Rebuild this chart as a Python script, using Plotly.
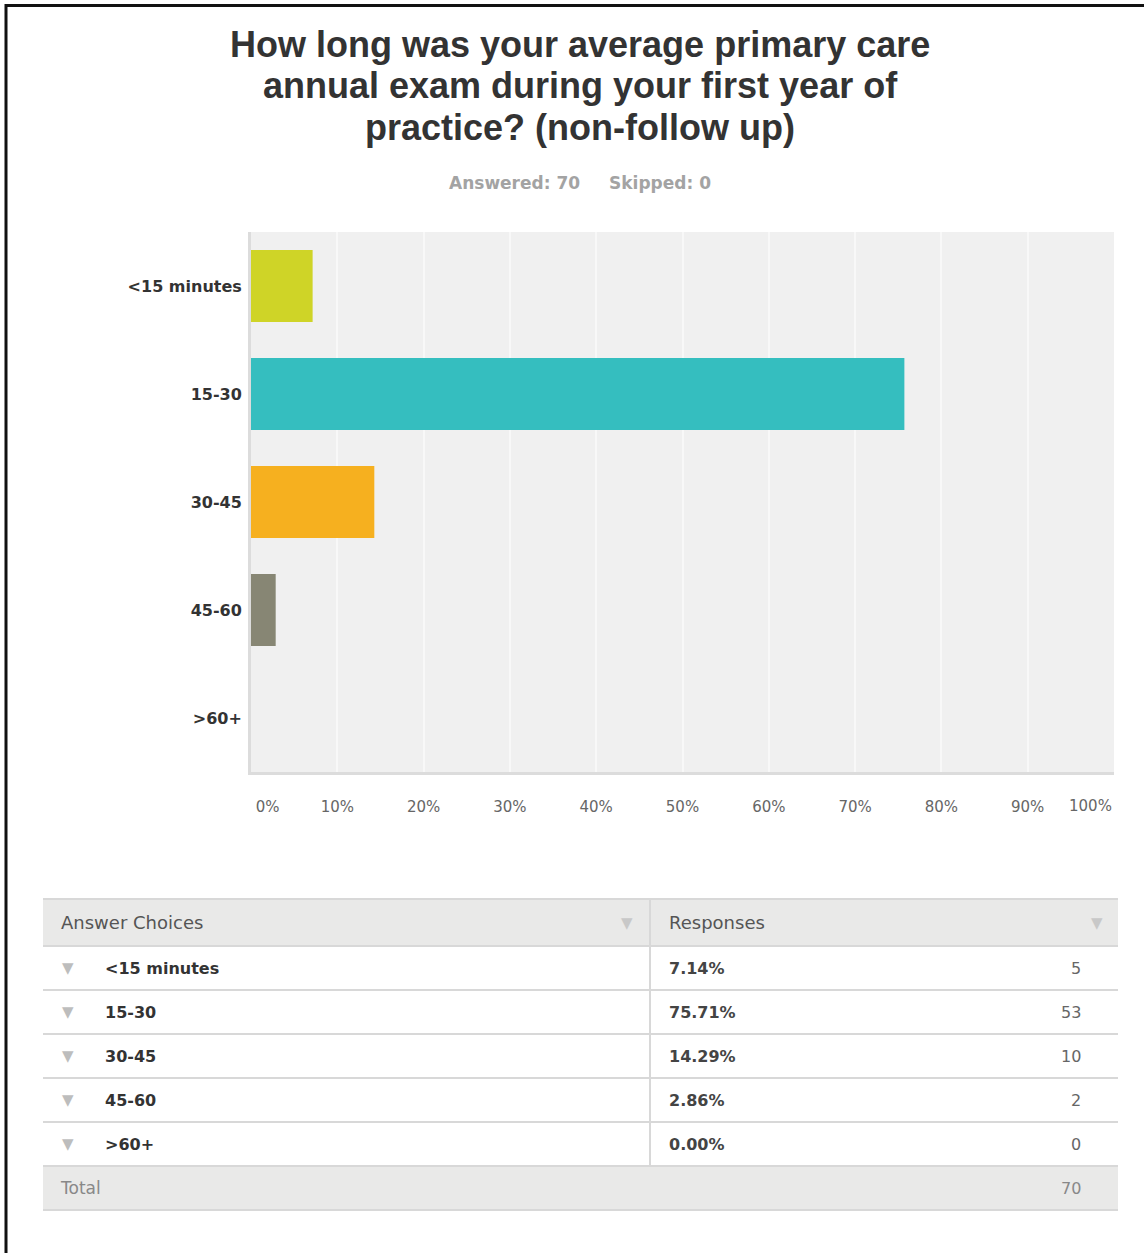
import plotly.graph_objects as go

W, H = 1144, 1253

# ---- data ----
categories = ["<15 minutes", "15-30", "30-45", "45-60", ">60+"]
percentages = [7.14, 75.71, 14.29, 2.86, 0.00]
counts = [5, 53, 10, 2, 0]
answered = 70
skipped = 0
bar_colors = ["#cfd427", "#35bebf", "#f6b01f", "#878674", "#999999"]
x_tick_vals = [0, 0.1, 0.2, 0.3, 0.4, 0.5, 0.6, 0.7, 0.8, 0.9]
x_tick_labels = ["\u00a0" * 7 + "0%", "10%", "20%", "30%", "40%", "50%", "60%", "70%",
                 "80%", "90%"]
x_end_val = 1.0
x_end_label = "100%"
title_lines = ["How long was your average primary care",
               "annual exam during your first year of",
               "practice? (non-follow up)"]


def px(x):
    return x / W


def py(y):
    return 1 - y / H


fig = go.Figure(go.Bar(
    y=categories,
    x=[p / 100 for p in percentages],
    orientation="h",
    marker=dict(color=bar_colors, line=dict(width=0)),
    width=0.667,
    hoverinfo="skip",
))

tick_font = dict(family="DejaVu Sans", size=15, color="#666666")

fig.update_layout(
    width=W, height=H,
    autosize=False,
    margin=dict(l=0, r=0, t=0, b=0, pad=0),
    paper_bgcolor="white",
    plot_bgcolor="#f0f0f0",
    showlegend=False,
    xaxis=dict(
        domain=[px(251), px(1114)], range=[0, x_end_val],
        tickvals=x_tick_vals, ticktext=x_tick_labels,
        showgrid=True, gridcolor="#f8f8f8", gridwidth=2,
        showline=True, linecolor="#dcdcdc", linewidth=3,
        zeroline=False, ticks="outside", ticklen=19,
        tickcolor="rgba(0,0,0,0)",
        tickfont=tick_font,
        fixedrange=True, automargin=False,
    ),
    yaxis=dict(
        domain=[py(772), py(232)], autorange="reversed",
        showgrid=False, zeroline=False,
        showline=True, linecolor="#dcdcdc", linewidth=3,
        ticks="outside", ticklen=3, tickcolor="rgba(0,0,0,0)",
        tickfont=dict(family="DejaVu Sans", size=16, color="#333333", weight="bold"),
        fixedrange=True, automargin=False,
    ),
)

annotations = []
shapes = []

# last x tick label, right-aligned at the end of the axis
annotations.append(dict(
    x=x_end_val, y=py(806), xref="x", yref="paper",
    text=x_end_label, showarrow=False, xanchor="right", yanchor="middle",
    font=tick_font,
))

# title
for line, yc in zip(title_lines, [45, 86, 127]):
    annotations.append(dict(
        x=px(580), y=py(yc), xref="paper", yref="paper",
        text=line, showarrow=False, xanchor="center", yanchor="middle",
        font=dict(family="Liberation Sans", size=36, color="#333333", weight="bold"),
    ))

# answered / skipped
annotations.append(dict(
    x=px(447), y=py(183), xref="paper", yref="paper",
    text=f"Answered: {answered}", showarrow=False, xanchor="left", yanchor="middle",
    font=dict(family="DejaVu Sans", size=17, color="#a3a3a3", weight="bold"),
))
annotations.append(dict(
    x=px(607), y=py(183), xref="paper", yref="paper",
    text=f"Skipped: {skipped}", showarrow=False, xanchor="left", yanchor="middle",
    font=dict(family="DejaVu Sans", size=17, color="#a3a3a3", weight="bold"),
))

# ---- table ----
T_L, T_R, T_MID = 43, 1118, 650
HEAD_TOP, ROW_H = 899, 44
head_bot = HEAD_TOP + 47
n = len(categories)
total_top = head_bot + n * ROW_H
total_bot = total_top + ROW_H
border = "#d8d8d8"

shapes.append(dict(type="rect", xref="paper", yref="paper",
                   x0=px(T_L), x1=px(T_R), y0=py(head_bot), y1=py(HEAD_TOP),
                   fillcolor="#e9e9e8", line=dict(width=0), layer="below"))
shapes.append(dict(type="rect", xref="paper", yref="paper",
                   x0=px(T_L), x1=px(T_R), y0=py(total_bot), y1=py(total_top),
                   fillcolor="#e9e9e8", line=dict(width=0), layer="below"))

hlines = [HEAD_TOP, head_bot] + [head_bot + (i + 1) * ROW_H for i in range(n)] + [total_bot]
for yy in hlines:
    shapes.append(dict(type="line", xref="paper", yref="paper",
                       x0=px(T_L), x1=px(T_R), y0=py(yy), y1=py(yy),
                       line=dict(color=border, width=2)))
shapes.append(dict(type="line", xref="paper", yref="paper",
                   x0=px(T_MID), x1=px(T_MID), y0=py(HEAD_TOP), y1=py(total_top),
                   line=dict(color=border, width=2)))

hc = (HEAD_TOP + head_bot) / 2
annotations.append(dict(x=px(59), y=py(hc), xref="paper", yref="paper", text="Answer Choices",
                        showarrow=False, xanchor="left", yanchor="middle",
                        font=dict(family="DejaVu Sans", size=18, color="#555555")))
annotations.append(dict(x=px(667), y=py(hc), xref="paper", yref="paper", text="Responses",
                        showarrow=False, xanchor="left", yanchor="middle",
                        font=dict(family="DejaVu Sans", size=18, color="#555555")))
for tx in [627, 1097]:
    annotations.append(dict(x=px(tx), y=py(hc), xref="paper", yref="paper", text="▼",
                            showarrow=False, xanchor="center", yanchor="middle",
                            font=dict(family="DejaVu Sans", size=15, color="#c8c8c8")))

for i, (cat, pct, cnt) in enumerate(zip(categories, percentages, counts)):
    yc = head_bot + i * ROW_H + ROW_H / 2
    annotations.append(dict(x=px(68), y=py(yc), xref="paper", yref="paper", text="▼",
                            showarrow=False, xanchor="center", yanchor="middle",
                            font=dict(family="DejaVu Sans", size=15, color="#bdbdbd")))
    annotations.append(dict(x=px(103), y=py(yc), xref="paper", yref="paper", text=cat,
                            showarrow=False, xanchor="left", yanchor="middle",
                            font=dict(family="DejaVu Sans", size=16, color="#333333", weight="bold")))
    annotations.append(dict(x=px(667), y=py(yc), xref="paper", yref="paper", text=f"{pct:.2f}%",
                            showarrow=False, xanchor="left", yanchor="middle",
                            font=dict(family="DejaVu Sans", size=16, color="#444444", weight="bold")))
    annotations.append(dict(x=px(1083), y=py(yc), xref="paper", yref="paper", text=str(cnt),
                            showarrow=False, xanchor="right", yanchor="middle",
                            font=dict(family="DejaVu Sans", size=16, color="#666666")))

tc = (total_top + total_bot) / 2
annotations.append(dict(x=px(58), y=py(tc), xref="paper", yref="paper", text="Total",
                        showarrow=False, xanchor="left", yanchor="middle",
                        font=dict(family="DejaVu Sans", size=17, color="#888888")))
annotations.append(dict(x=px(1083), y=py(tc), xref="paper", yref="paper", text=str(answered),
                        showarrow=False, xanchor="right", yanchor="middle",
                        font=dict(family="DejaVu Sans", size=16, color="#888888")))

# outer frame (left and top edges visible)
shapes.append(dict(type="line", xref="paper", yref="paper",
                   x0=px(6), x1=px(6), y0=0, y1=py(4),
                   line=dict(color="#111111", width=3)))
shapes.append(dict(type="line", xref="paper", yref="paper",
                   x0=px(5), x1=1, y0=py(5.5), y1=py(5.5),
                   line=dict(color="#111111", width=3)))

fig.update_layout(annotations=annotations, shapes=shapes)
fig.write_html("out.html")
